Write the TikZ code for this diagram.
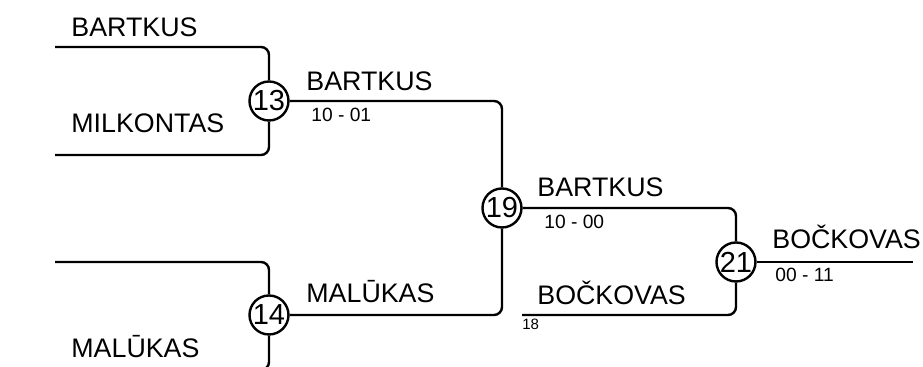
\documentclass[tikz,border=0pt]{standalone}
\usepackage{fontspec}
\setmainfont{Liberation Sans}
\usetikzlibrary{positioning}
\usetikzlibrary{calc}

\tikzset{
  game/.style={draw, circle, line width=1.2pt, minimum size=19.5pt, inner sep=0pt,
    font=\fontsize{14.5}{15}\selectfont},
  player/.style={anchor=base west, inner sep=0pt, font=\fontsize{13.4}{14}\selectfont},
  score/.style={anchor=base west, inner sep=0pt, font=\fontsize{9.6}{10}\selectfont},
  seed/.style={anchor=base west, inner sep=0pt, font=\fontsize{7.5}{8}\selectfont},
  wire/.style={line width=1.2pt, rounded corners=4pt}
}

\begin{document}
\begin{tikzpicture}[x=0.5pt, y=-0.5pt]
        \useasboundingbox (0, 0) rectangle (923, 367);
        \clip (0, 0) rectangle (923, 367);

        % Partijos
        \node[game] (m13) at (269, 101) {13};
        \node[game] (m14) at (269, 315) {14};
        \node[game] (m19) at (502, 208) {19};
        \node[game] (m21) at (736, 262) {21};

        % Laisvi galai
        \coordinate (a1) at (55, 47);
        \coordinate (a2) at (55, 155);
        \coordinate (a3) at (55, 262);
        \coordinate (a4) at (55, 370);
        \coordinate (s18) at (522, 315);
        \coordinate (fin) at (913, 262);

        % Linijos
        \foreach \from/\to in {a1/m13, a2/m13, a3/m14, a4/m14, m13/m19, m14/m19, m19/m21, s18/m21}
        {
        \draw[wire] (\from) -| (\to);
        }
        \draw[wire] (m21) -- (fin);

        % Vardai
        \node[player] (n1) at (71, 37) {BARTKUS};
        \node[player] (n2) at (71, 133) {MILKONTAS};
        \node[player] (n4) at (71, 358) {MALŪKAS};
        \node[player] (w13) at (306, 91) {BARTKUS};
        \node[player] (w14) at (306, 303) {MALŪKAS};
        \node[player] (w19) at (537, 197) {BARTKUS};
        \node[player] (n18) at (537, 305) {BOČKOVAS};
        \node[player] (w21) at (772, 249) {BOČKOVAS};

        % Rezultatai
        \node[score] (r13) at (311, 122) {10 - 01};
        \node[score] (r19) at (544, 229) {10 - 00};
        \node[score] (r21) at (775, 282) {00 - 11};
        \node[seed] (k18) at (522, 330) {18};
    \end{tikzpicture}
\end{document}
